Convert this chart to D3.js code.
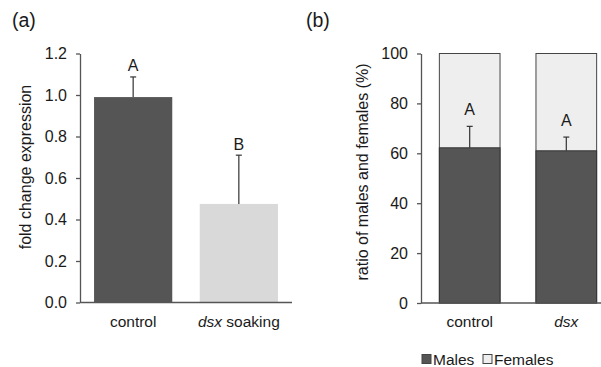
<!DOCTYPE html>
<html>
<head>
<meta charset="utf-8">
<script src="https://cdn.jsdelivr.net/npm/d3@7"></script>
<style>
  body { margin: 0; background: #fff; }
  svg text { font-family: "Liberation Sans", Arial, sans-serif; fill: #1a1a1a; }
</style>
</head>
<body>
<div id="chart"></div>
<script>
// panel (a)
const groupsA = ['control', 'dsx soaking']
const foldChange = [0.99, 0.475]
const foldErr = [0.097, 0.235]
const lettersA = ['A', 'B']
const ticksA = [0, 0.2, 0.4, 0.6, 0.8, 1.0, 1.2]

// panel (b)
const groupsB = ['control', 'dsx']
const malesPct = [62.2, 61.0]
const malesErr = [8.6, 5.5]
const lettersB = ['A', 'A']
const ticksB = [0, 20, 40, 60, 80, 100]
const legendItems = ['Males', 'Females']

const W = 601, H = 367
const svg = d3.select('#chart').append('svg').attr('width', W).attr('height', H)

const dark = '#555555', lightA = '#d9d9d9', lightB = '#eeeeee', axisCol = '#555'

function errBar (g, x, yTop, yBase) {
  g.append('line').attr('x1', x).attr('x2', x).attr('y1', yTop).attr('y2', yBase)
    .attr('stroke', '#333').attr('stroke-width', 1.2)
  g.append('line').attr('x1', x - 3).attr('x2', x + 3).attr('y1', yTop).attr('y2', yTop)
    .attr('stroke', '#333').attr('stroke-width', 1.2)
}

function styleAxis (g) {
  g.select('.domain').attr('stroke', axisCol).attr('stroke-width', 1.3)
  g.selectAll('.tick line').attr('stroke', axisCol).attr('stroke-width', 1.3)
  g.selectAll('.tick text').attr('font-size', 16).attr('fill', '#1a1a1a')
}

// ---------- (a) ----------
const yA = d3.scaleLinear().domain([0, 1.2]).range([302.5, 53.5])
const xA = d3.scaleBand().domain(groupsA).range([80, 292]).paddingInner(0.26).paddingOuter(0.133)
const gA = svg.append('g')

gA.append('text').attr('x', 12).attr('y', 27).attr('font-size', 19.5).text('(a)')

gA.selectAll('rect.bar').data(groupsA).join('rect').attr('class', 'bar')
  .attr('x', d => xA(d)).attr('width', xA.bandwidth())
  .attr('y', (d, i) => yA(foldChange[i])).attr('height', (d, i) => yA(0) - yA(foldChange[i]))
  .attr('fill', (d, i) => i === 0 ? dark : lightA)

groupsA.forEach((d, i) => {
  const cx = xA(d) + xA.bandwidth() / 2
  errBar(gA, cx, yA(foldChange[i] + foldErr[i]), yA(foldChange[i]))
  gA.append('text').attr('x', cx).attr('y', yA(foldChange[i] + foldErr[i]) - 5.5)
    .attr('text-anchor', 'middle').attr('font-size', 16).text(lettersA[i])
})

const axA = gA.append('g').attr('transform', 'translate(80,0)')
  .call(d3.axisLeft(yA).tickValues(ticksA).tickFormat(d3.format('.1f')).tickSize(4).tickSizeOuter(0).tickPadding(9))
styleAxis(axA)
gA.append('line').attr('x1', 80).attr('x2', 292).attr('y1', yA(0)).attr('y2', yA(0))
  .attr('stroke', axisCol).attr('stroke-width', 1.3)

const labA = gA.append('g')
labA.append('text').attr('x', xA('control') + xA.bandwidth() / 2).attr('y', 327)
  .attr('text-anchor', 'middle').attr('font-size', 15.5).text('control')
const dsxA = labA.append('text').attr('x', xA('dsx soaking') + xA.bandwidth() / 2).attr('y', 327)
  .attr('text-anchor', 'middle').attr('font-size', 15.5)
dsxA.append('tspan').attr('font-style', 'italic').text('dsx')
dsxA.append('tspan').text(' soaking')

gA.append('text').attr('transform', 'translate(31,167) rotate(-90)')
  .attr('text-anchor', 'middle').attr('font-size', 16).text('fold change expression')

// ---------- (b) ----------
const yB = d3.scaleLinear().domain([0, 100]).range([303, 53.5])
const xB = d3.scaleBand().domain(groupsB).range([421, 615]).paddingInner(0.372).paddingOuter(0.19)
const gB = svg.append('g')

gB.append('text').attr('x', 306).attr('y', 27).attr('font-size', 19.5).text('(b)')

gB.selectAll('rect.fem').data(groupsB).join('rect').attr('class', 'fem')
  .attr('x', d => xB(d)).attr('width', xB.bandwidth())
  .attr('y', yB(100)).attr('height', yB(0) - yB(100))
  .attr('fill', lightB).attr('stroke', '#444').attr('stroke-width', 1)

gB.selectAll('rect.male').data(groupsB).join('rect').attr('class', 'male')
  .attr('x', d => xB(d)).attr('width', xB.bandwidth())
  .attr('y', (d, i) => yB(malesPct[i])).attr('height', (d, i) => yB(0) - yB(malesPct[i]))
  .attr('fill', dark).attr('stroke', '#333').attr('stroke-width', 1)

groupsB.forEach((d, i) => {
  const cx = xB(d) + xB.bandwidth() / 2
  errBar(gB, cx, yB(malesPct[i] + malesErr[i]), yB(malesPct[i]))
  gB.append('text').attr('x', cx).attr('y', yB(malesPct[i] + malesErr[i]) - 11)
    .attr('text-anchor', 'middle').attr('font-size', 16).text(lettersB[i])
})

const axB = gB.append('g').attr('transform', 'translate(421,0)')
  .call(d3.axisLeft(yB).tickValues(ticksB).tickSize(4).tickSizeOuter(0).tickPadding(9))
styleAxis(axB)
gB.append('line').attr('x1', 421).attr('x2', 601).attr('y1', yB(0)).attr('y2', yB(0))
  .attr('stroke', axisCol).attr('stroke-width', 1.3)

gB.append('text').attr('x', xB('control') + xB.bandwidth() / 2).attr('y', 327)
  .attr('text-anchor', 'middle').attr('font-size', 15.5).text('control')
gB.append('text').attr('x', xB('dsx') + xB.bandwidth() / 2).attr('y', 327)
  .attr('text-anchor', 'middle').attr('font-size', 15.5).attr('font-style', 'italic').text('dsx')

gB.append('text').attr('transform', 'translate(368,172) rotate(-90)')
  .attr('text-anchor', 'middle').attr('font-size', 16).text('ratio of males and females (%)')

// legend
const legX = [422, 483]
legendItems.forEach((name, i) => {
  gB.append('rect').attr('x', legX[i]).attr('y', 354.5).attr('width', 9).attr('height', 9)
    .attr('fill', i === 0 ? dark : lightB).attr('stroke', '#444').attr('stroke-width', 1)
  gB.append('text').attr('x', legX[i] + 11).attr('y', 364.5).attr('font-size', 15.5).text(name)
})
</script>
</body>
</html>
